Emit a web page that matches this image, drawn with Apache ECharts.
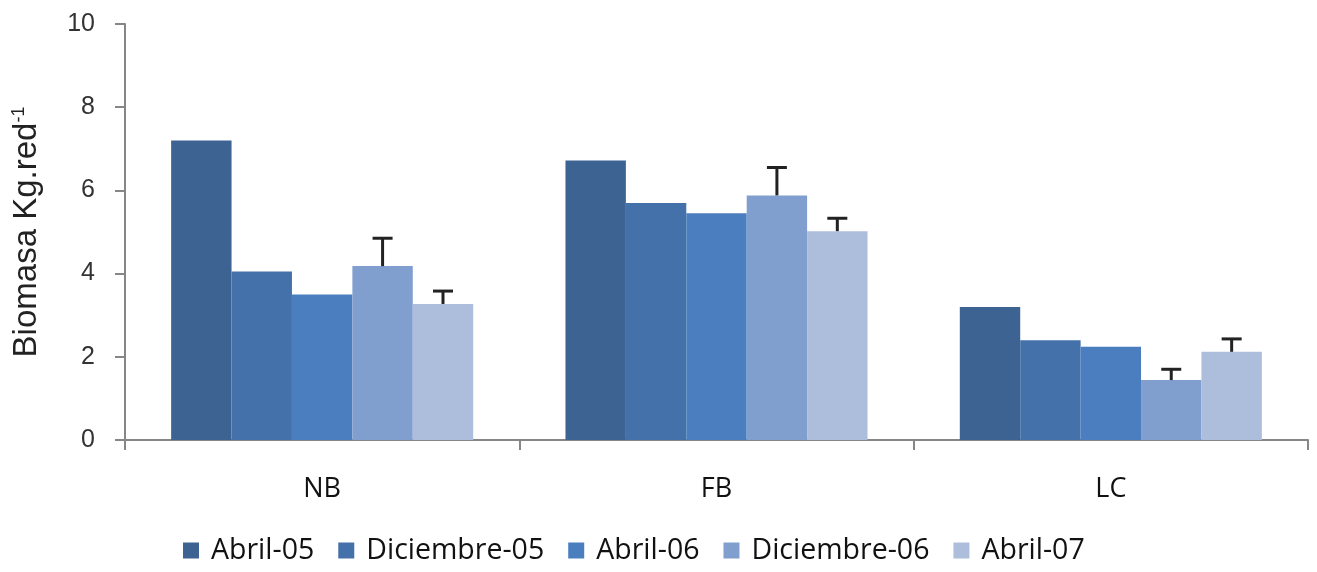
<!DOCTYPE html>
<html>
<head>
<meta charset="utf-8">
<script src="https://cdn.jsdelivr.net/npm/echarts@6/dist/echarts.min.js"></script>
<style>html,body{margin:0;padding:0;background:#fff}#c{width:1317px;height:572px}</style>
</head>
<body>
<div id="c"></div>
<script>
const categories = ['NB', 'FB', 'LC'];
const seriesNames = ['Abril-05', 'Diciembre-05', 'Abril-06', 'Diciembre-06', 'Abril-07'];
const abril05 = [7.2, 6.72, 3.2];
const diciembre05 = [4.05, 5.7, 2.4];
const abril06 = [3.5, 5.45, 2.24];
const diciembre06 = [4.18, 5.88, 1.44];
const abril07 = [3.27, 5.02, 2.12];
// upper ends of error bars
const errTopDiciembre06 = [4.85, 6.55, 1.7];
const errTopAbril07 = [3.58, 5.33, 2.43];
const yTicks = [0, 2, 4, 6, 8, 10];

const colors = ['#3d6392', '#4571ab', '#4a7ebf', '#809fcf', '#adbedd'];
const gapRatio = 0.234;
const allValues = [abril05, diciembre05, abril06, diciembre06, abril07];

const barSeries = seriesNames.map((n, i) => ({
  name: n, type: 'bar', data: allValues[i],
  barGap: '0%', barCategoryGap: (gapRatio * 100) + '%',
  itemStyle: { color: colors[i] }
}));

function errSeries(idx, vals, tops) {
  return {
    type: 'custom',
    silent: true,
    z: 5,
    data: categories.map((c, k) => [k, vals[k], tops[k]]),
    renderItem: function (params, api) {
      const k = api.value(0);
      const base = api.coord([k, api.value(1)]);
      const top = api.coord([k, api.value(2)]);
      const band = api.size([1, 0])[0];
      const bw = band * (1 - gapRatio) / 5;
      const cx = base[0] + (idx - 2) * bw;
      const half = 10;
      const st = { stroke: '#222', lineWidth: 3 };
      return {
        type: 'group',
        children: [
          { type: 'line', shape: { x1: cx, y1: base[1], x2: cx, y2: top[1] }, style: st },
          { type: 'line', shape: { x1: cx - half, y1: top[1], x2: cx + half, y2: top[1] }, style: st }
        ]
      };
    }
  };
}

const chart = echarts.init(document.getElementById('c'));
chart.setOption({
  animation: false,
  grid: { left: 125, right: 9, top: 24, bottom: 132 },
  legend: {
    data: seriesNames,
    bottom: 2,
    left: 178,
    itemWidth: 16, itemHeight: 16, itemGap: 24,
    icon: 'rect',
    textStyle: { fontFamily: 'Open Sans', fontSize: 28.5, color: '#111', padding: [0, 0, 0, 7] }
  },
  xAxis: {
    type: 'category', data: categories,
    axisLine: { lineStyle: { color: '#868686', width: 2 } },
    axisTick: { show: true, length: 10, lineStyle: { color: '#868686', width: 2 } },
    axisLabel: { fontFamily: 'Open Sans', fontSize: 27, color: '#111', margin: 36 }
  },
  yAxis: {
    type: 'value', min: 0, max: 10, interval: 2,
    name: '{a|Biomasa Kg.red}{s|-1}',
    nameLocation: 'middle', nameRotate: 90, nameGap: 82,
    nameTextStyle: {
      rich: {
        a: { fontFamily: 'Liberation Sans', fontSize: 33, color: '#222' },
        s: { fontFamily: 'Liberation Sans', fontSize: 18, color: '#222', verticalAlign: 'top', padding: [0, 0, 14, 0] }
      }
    },
    splitLine: { show: false },
    axisLine: { show: true, lineStyle: { color: '#868686', width: 2 } },
    axisTick: { show: true, length: 10, lineStyle: { color: '#868686', width: 2 } },
    axisLabel: { fontFamily: 'Liberation Sans', fontSize: 25, color: '#333', margin: 30,
      formatter: v => yTicks.includes(v) ? String(v) : '' }
  },
  series: barSeries.concat([
    errSeries(3, diciembre06, errTopDiciembre06),
    errSeries(4, abril07, errTopAbril07)
  ])
});
</script>
</body>
</html>
